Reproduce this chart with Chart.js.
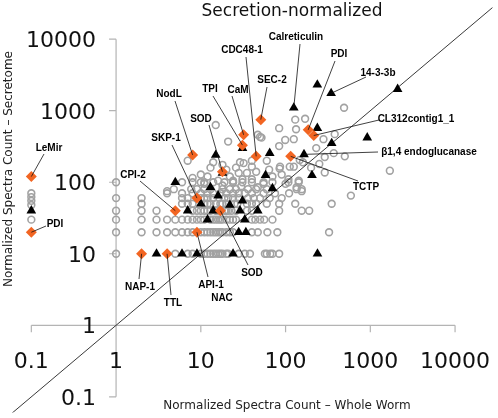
<!DOCTYPE html>
<html>
<head>
<meta charset="utf-8">
<script src="https://cdn.jsdelivr.net/npm/chart.js@4/dist/chart.umd.min.js"></script>
<style>
  html, body { margin: 0; padding: 0; background: #fff; }
  #wrap { width: 498px; height: 418px; }
</style>
</head>
<body>
<div id="wrap"><canvas id="chart" width="498" height="418"></canvas></div>
<script>
// tick values shared by both axes
const tickValues = [0.1, 1, 10, 100, 1000, 10000];
const tickLabels = ['0.1', '1', '10', '100', '1000', '10000'];

// gray circles, grouped by secretome count (rows) - x = whole worm count
const rowY = [10, 20, 30, 40, 50, 60, 70, 80, 100];
const rowX = [
  [1, 5, 7, 8, 10, 11, 12, 13, 14, 15, 16, 17, 18, 20, 21, 28, 33, 38, 57, 60, 66, 70, 84],
  [1, 2, 3, 4, 5, 6, 7, 8, 10, 11, 12, 13, 14, 15, 16, 17, 18, 20, 22, 24, 40, 47, 61, 80, 326],
  [1, 2, 3, 4, 5, 6, 7, 8, 9, 10, 11, 13, 14, 15, 16, 17, 18, 20, 22, 24, 26, 40, 44, 50, 56, 70],
  [1, 2, 3, 8, 9, 10, 11, 12, 13, 15, 16, 19, 20, 21, 23, 26, 35, 40, 84, 155, 190],
  [2, 6, 7, 8, 11, 12, 13, 15, 17, 18, 20, 25, 27, 35, 40, 45, 60, 84, 130, 350],
  [1, 2, 6, 7, 10, 11, 12, 14, 19, 21, 24, 28, 36, 42, 50, 65, 90],
  [4, 6, 8, 10, 12, 14, 17, 20, 24, 28, 33, 40, 55, 75, 110],
  [4.8, 7.7, 9, 11, 13, 18, 22, 26, 36, 45, 60, 135, 155],
  [1, 6, 8, 10, 11, 14, 19, 24, 31, 40, 55, 70, 108, 143]
];
// proteins absent from whole worm (plotted at 0.1)
const absentY = [30, 48, 55, 62, 70];
// scattered gray circles above the dense rows [whole worm, secretome]
const scatterCircles = [
  [7, 200], [14, 190], [29, 190], [32, 185], [40, 165], [85, 155], [28, 135], [35, 135],
  [64, 150], [90, 128], [125, 165], [147, 205], [108, 110], [143, 105], [24, 105], [40, 110],
  [47, 85], [135, 85], [155, 75], [84, 570], [133, 550], [47, 460], [52, 420], [21, 370],
  [99, 390], [15, 630], [490, 1100], [130, 750], [170, 770], [380, 470], [280, 400],
  [50, 430], [125, 400], [84, 320], [290, 225], [500, 230], [370, 255], [1700, 145],
  [290, 137], [112, 165], [86, 165], [590, 65], [8, 115], [10, 128], [11, 95], [24, 100],
  [31, 110], [4, 75], [13, 160], [18, 175], [20, 150], [22, 120], [26, 160], [16, 105],
  [12, 120], [60, 200], [70, 120], [45, 140], [55, 95], [18, 90], [30, 88], [100, 95],
  [200, 160], [250, 180], [230, 300], [160, 190], [40, 200]
];

// black triangles
const triangleX = [0.1, 3, 6, 9, 24, 238, 28, 34, 12, 33, 7, 14, 29, 47, 22, 10, 31, 16, 13, 5,
  70, 58, 205, 18, 15, 65, 165, 237, 350, 920, 125, 345, 237, 2100, 31];
const triangleY = [40, 10, 10, 10, 10, 10, 20, 20, 30, 30, 40, 40, 40, 40, 48, 50, 55, 65, 85, 100,
  82, 125, 125, 135, 240, 255, 245, 570, 350, 420, 1100, 1750, 2300, 2000, 300];

// orange diamonds
const diamondNames = ['LeMir', 'PDI', 'NAP-1', 'TTL', 'CPI-2', 'API-1', 'SKP-1', 'NodL', 'SOD', 'SOD',
  'TPI', 'CaM', 'CDC48-1', 'SEC-2', 'PDI', 'CL312contig1_1', 'TCTP'];
const diamondX = [0.1, 0.1, 2, 4, 5, 9, 9, 8, 18, 17, 31, 32, 45, 51, 185, 215, 115];
const diamondY = [120, 20, 10, 10, 40, 20, 60, 240, 140, 40, 330, 460, 230, 750, 540, 450, 230];

// label placement (pixels): text centre and start of leader line; target = point in a series
const callouts = [
  { text: 'LeMir', set: 'd', i: 0, lx: 49, ly: 148, sx: 44, sy: 154 },
  { text: 'PDI', set: 'd', i: 1, lx: 55, ly: 224, sx: 46, sy: 226 },
  { text: 'NAP-1', set: 'd', i: 2, lx: 140, ly: 287, sx: 139, sy: 279 },
  { text: 'TTL', set: 'd', i: 3, lx: 173, ly: 303, sx: 171, sy: 295 },
  { text: 'CPI-2', set: 'd', i: 4, lx: 133, ly: 175, sx: 140, sy: 181 },
  { text: 'API-1', set: 'd', i: 5, lx: 211, ly: 285, sx: 208, sy: 277 },
  { text: 'NAC', lx: 222, ly: 298 },
  { text: 'SKP-1', set: 'd', i: 6, lx: 166, ly: 138, sx: 172, sy: 145 },
  { text: 'NodL', set: 'd', i: 7, lx: 169, ly: 94, sx: 175, sy: 101 },
  { text: 'SOD', set: 'd', i: 8, lx: 201, ly: 119, sx: 209, sy: 125 },
  { text: 'SOD', set: 'd', i: 9, lx: 252, ly: 273, sx: 248, sy: 265 },
  { text: 'TPI', set: 'd', i: 10, lx: 210, ly: 89, sx: 213, sy: 96 },
  { text: 'CaM', set: 'd', i: 11, lx: 238, ly: 90, sx: 232, sy: 96 },
  { text: 'CDC48-1', set: 'd', i: 12, lx: 242, ly: 50, sx: 246, sy: 57 },
  { text: 'SEC-2', set: 'd', i: 13, lx: 272, ly: 80, sx: 267, sy: 87 },
  { text: 'Calreticulin', set: 't', i: 30, lx: 296, ly: 37, sx: 300, sy: 44 },
  { text: 'PDI', set: 'd', i: 14, lx: 339, ly: 54, sx: 335, sy: 61 },
  { text: '14-3-3b', set: 't', i: 31, lx: 378, ly: 73, sx: 366, sy: 77 },
  { text: 'CL312contig1_1', set: 'd', i: 15, lx: 416, ly: 119, sx: 379, sy: 120 },
  { text: 'β1,4 endoglucanase', set: 't', i: 26, lx: 429, ly: 152, sx: 378, sy: 152 },
  { text: 'TCTP', set: 'd', i: 16, lx: 366, ly: 187, sx: 358, sy: 181 }
];

const circlePoints = [];
rowY.forEach((yv, r) => rowX[r].forEach(xv => circlePoints.push({ x: xv, y: yv })));
absentY.forEach(yv => circlePoints.push({ x: 0.1, y: yv }));
scatterCircles.forEach(p => circlePoints.push({ x: p[0], y: p[1] }));
const trianglePoints = triangleX.map((xv, i) => ({ x: xv, y: triangleY[i] }));
const diamondPoints = diamondX.map((xv, i) => ({ x: xv, y: diamondY[i] }));

// axes, tick labels, titles and callouts drawn with the chart's scales
const overlay = {
  id: 'overlay',
  beforeDatasetsDraw(chart) {
    const { ctx, scales: { x, y } } = chart;
    const x0 = x.getPixelForValue(1), y0 = y.getPixelForValue(1);
    ctx.save();
    ctx.strokeStyle = '#b4b4b4';
    ctx.lineWidth = 1.2;
    ctx.beginPath();
    ctx.moveTo(x0, y.getPixelForValue(0.1));
    ctx.lineTo(x0, y.getPixelForValue(10000));
    ctx.moveTo(x.getPixelForValue(0.1), y0);
    ctx.lineTo(x.getPixelForValue(10000), y0);
    tickValues.forEach(v => {
      const py = y.getPixelForValue(v);
      ctx.moveTo(x0 - 7, py); ctx.lineTo(x0, py);
      const px = x.getPixelForValue(v);
      ctx.moveTo(px, y0); ctx.lineTo(px, y0 + 7);
    });
    ctx.stroke();

    ctx.fillStyle = '#111';
    ctx.font = '22px "DejaVu Sans"';
    ctx.textBaseline = 'alphabetic';
    tickValues.forEach((v, i) => {
      ctx.textAlign = 'right';
      ctx.fillText(tickLabels[i], x0 - 20, y.getPixelForValue(v) + 8);
      ctx.textAlign = 'center';
      ctx.fillText(tickLabels[i], x.getPixelForValue(v), y0 + 43);
    });

    ctx.font = '17px "DejaVu Sans"';
    ctx.textAlign = 'center';
    ctx.fillText('Secretion-normalized', 292, 16);

    ctx.font = '12px "DejaVu Sans"';
    ctx.fillStyle = '#222';
    ctx.fillText('Normalized Spectra Count – Whole Worm', 287, 409);
    ctx.save();
    ctx.translate(12, 169);
    ctx.rotate(-Math.PI / 2);
    ctx.fillText('Normalized Spectra Count – Secretome', 0, 0);
    ctx.restore();
    ctx.restore();
  },
  afterDatasetsDraw(chart) {
    const { ctx, scales: { x, y } } = chart;
    ctx.save();
    ctx.strokeStyle = '#111';
    ctx.lineWidth = 0.8;
    ctx.fillStyle = '#000';
    ctx.font = 'bold 10px "Liberation Sans"';
    ctx.textAlign = 'center';
    ctx.textBaseline = 'middle';
    callouts.forEach(c => {
      if (c.set) {
        const p = c.set === 'd' ? diamondPoints[c.i] : trianglePoints[c.i];
        ctx.beginPath();
        ctx.moveTo(c.sx, c.sy);
        ctx.lineTo(x.getPixelForValue(p.x), y.getPixelForValue(p.y));
        ctx.stroke();
      }
      ctx.fillText(c.text, c.lx, c.ly);
    });
    ctx.restore();
  }
};

new Chart(document.getElementById('chart'), {
  type: 'scatter',
  data: {
    datasets: [
      {
        label: 'Highlighted',
        data: diamondPoints,
        pointStyle: 'rectRot',
        pointRadius: 5.5,
        backgroundColor: '#f26522',
        borderColor: '#f26522',
        borderWidth: 0
      },
      {
        label: 'Other',
        data: trianglePoints,
        pointStyle: 'triangle',
        pointRadius: 5.6,
        backgroundColor: '#000',
        borderColor: '#000',
        borderWidth: 0
      },
      {
        type: 'line',
        label: 'y = x',
        data: [{ x: 0.03, y: 0.03 }, { x: 50000, y: 50000 }],
        borderColor: '#222',
        borderWidth: 0.9,
        pointRadius: 0,
        fill: false
      },
      {
        label: 'All proteins',
        data: circlePoints,
        pointStyle: 'circle',
        pointRadius: 3.4,
        backgroundColor: 'rgba(255,255,255,0)',
        borderColor: '#a2a2a2',
        borderWidth: 1.6
      }
    ]
  },
  options: {
    responsive: false,
    animation: false,
    layout: { padding: 0 },
    plugins: { legend: { display: false }, tooltip: { enabled: false } },
    scales: {
      x: { type: 'logarithmic', bounds: 'data', min: 0.0497, max: 27580, display: false },
      y: { type: 'logarithmic', bounds: 'data', min: 0.0606, max: 29450, display: false }
    }
  },
  plugins: [overlay]
});
</script>
</body>
</html>
